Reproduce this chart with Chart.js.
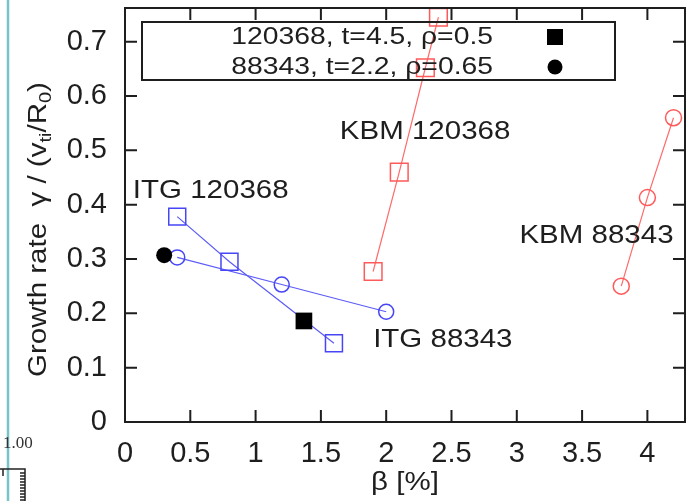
<!DOCTYPE html>
<html lang="en">
<head>
<meta charset="UTF-8">
<title>Growth rate vs beta</title>
<script src="https://cdn.jsdelivr.net/npm/chart.js@4.4.0/dist/chart.umd.js"></script>
<style>
  html, body { margin: 0; padding: 0; background: #ffffff; }
  #wrap { width: 690px; height: 501px; position: relative; }
</style>
</head>
<body>
<div id="wrap"><canvas id="chart" width="690" height="501"></canvas></div>
<script>
// values: beta [%] vs growth rate
const itg120368Beta = [0.4, 0.8, 1.6];
const itg120368Gamma = [0.378, 0.295, 0.145];
const itg88343Beta = [0.4, 1.2, 2.0];
const itg88343Gamma = [0.303, 0.253, 0.203];
const kbm120368Beta = [1.9, 2.1, 2.3, 2.4];
const kbm120368Gamma = [0.277, 0.46, 0.652, 0.745];
const kbm88343Beta = [3.8, 4.0, 4.2];
const kbm88343Gamma = [0.25, 0.413, 0.56];

// experimental points (filled), 120368 then 88343
const expBeta = [1.37, 0.3];
const expGamma = [0.186, 0.307];
const expLabels = ['120368, t=4.5, \u03c1=0.5', '88343, t=2.2, \u03c1=0.65'];

const xTicks = [0, 0.5, 1, 1.5, 2, 2.5, 3, 3.5, 4];
const yTicks = [0, 0.1, 0.2, 0.3, 0.4, 0.5, 0.6, 0.7];

// curve labels, placed in data coordinates
const curveLabels = ['ITG 120368', 'KBM 120368', 'KBM 88343', 'ITG 88343'];
const curveLabelBeta = [0.06, 1.645, 3.02, 1.9];
const curveLabelGamma = [0.425, 0.534, 0.342, 0.151];

const BLUE = '#4646f5';
const BLUE_LINE = '#5c5cf6';
const RED = '#ff5a5a';
const RED_LINE = '#ff6a6a';
const INK = '#1e1e1e';
const FONT = '"Liberation Sans", Arial, Helvetica, sans-serif';
const STRETCH = 1.18;

function pts(xs, ys) {
  return xs.map((x, i) => ({ x: x, y: ys[i] }));
}

// text in the original is a bit wider than plain Arial
function wideText(ctx, str, x, y, align, size) {
  ctx.save();
  ctx.font = size + 'px ' + FONT;
  const w = ctx.measureText(str).width * STRETCH;
  let x0 = x;
  if (align === 'right') x0 = x - w;
  else if (align === 'center') x0 = x - w / 2;
  ctx.translate(x0, y);
  ctx.scale(STRETCH, 1);
  ctx.textAlign = 'left';
  ctx.textBaseline = 'middle';
  ctx.fillStyle = INK;
  ctx.fillText(str, 0, 0);
  ctx.restore();
}

const frame = {
  id: 'frame',
  afterDatasetsDraw(chart) {
    const ctx = chart.ctx;
    const a = chart.chartArea;
    const xs = chart.scales.x;
    const ys = chart.scales.y;
    ctx.save();

    // legend box (transparent, over the data)
    ctx.strokeStyle = INK;
    ctx.lineWidth = 2;
    ctx.strokeRect(142, 22, 473, 58);
    wideText(ctx, expLabels[0], 493, 37, 'right', 24);
    wideText(ctx, expLabels[1], 493, 67, 'right', 24);
    ctx.fillStyle = '#000';
    ctx.fillRect(547, 29, 16, 16);
    ctx.beginPath();
    ctx.arc(555, 67, 7.5, 0, Math.PI * 2);
    ctx.fill();

    // curve labels
    curveLabels.forEach((t, i) => {
      wideText(ctx, t, xs.getPixelForValue(curveLabelBeta[i]), ys.getPixelForValue(curveLabelGamma[i]), 'left', 25);
    });

    // box and inward ticks on all four sides
    ctx.strokeStyle = INK;
    ctx.lineWidth = 2;
    ctx.strokeRect(a.left, a.top, a.right - a.left, a.bottom - a.top);
    ctx.beginPath();
    xTicks.forEach(v => {
      const px = xs.getPixelForValue(v);
      ctx.moveTo(px, a.bottom); ctx.lineTo(px, a.bottom - 12);
      ctx.moveTo(px, a.top); ctx.lineTo(px, a.top + 12);
    });
    yTicks.forEach(v => {
      const py = ys.getPixelForValue(v);
      ctx.moveTo(a.left, py); ctx.lineTo(a.left + 12, py);
      ctx.moveTo(a.right, py); ctx.lineTo(a.right - 12, py);
    });
    ctx.stroke();

    // axis titles
    wideText(ctx, '\u03b2 [%]', (a.left + a.right) / 2, 483, 'center', 25);

    ctx.save();
    ctx.translate(46, 377);
    ctx.rotate(-Math.PI / 2);
    ctx.scale(STRETCH, 1);
    ctx.fillStyle = INK;
    ctx.textBaseline = 'alphabetic';
    ctx.textAlign = 'left';
    const parts = [
      ['Growth rate  \u03b3 / (v', 25, 0],
      ['ti', 17, 5],
      ['/R', 25, 0],
      ['0', 17, 5],
      [')', 25, 0]
    ];
    let cx = 0;
    parts.forEach(p => {
      ctx.font = p[1] + 'px ' + FONT;
      ctx.fillText(p[0], cx, p[2]);
      cx += ctx.measureText(p[0]).width;
    });
    ctx.restore();

    // stray marks at the left edge of the page
    ctx.strokeStyle = '#78c4c8';
    ctx.lineWidth = 2.5;
    ctx.beginPath();
    ctx.moveTo(8, 0); ctx.lineTo(8, 501);
    ctx.stroke();
    ctx.fillStyle = '#333';
    ctx.font = '17px "Liberation Serif", "Times New Roman", serif';
    ctx.textAlign = 'left';
    ctx.textBaseline = 'middle';
    ctx.fillText('1.00', 3, 444);
    ctx.strokeStyle = '#222';
    ctx.lineWidth = 1.5;
    ctx.beginPath();
    ctx.moveTo(0, 469); ctx.lineTo(25, 469); ctx.lineTo(25, 501);
    ctx.moveTo(3, 469); ctx.lineTo(3, 476);
    for (let yy = 473; yy < 501; yy += 3) {
      ctx.moveTo(25, yy); ctx.lineTo(yy % 9 === 0 ? 17 : 20, yy);
    }
    ctx.stroke();

    ctx.restore();
  }
};

const lineSet = (data, style, line, mark, r) => ({
  data: data,
  showLine: true,
  borderColor: line,
  borderWidth: 1.2,
  pointStyle: style,
  pointRadius: r,
  pointHoverRadius: r,
  pointBorderColor: mark,
  pointBackgroundColor: 'rgba(0,0,0,0)',
  pointBorderWidth: 1.5,
  tension: 0
});

new Chart(document.getElementById('chart'), {
  type: 'scatter',
  data: {
    datasets: [
      {
        data: pts(expBeta, expGamma),
        showLine: false,
        pointStyle: ['rect', 'circle'],
        pointRadius: [11.8, 8],
        pointBackgroundColor: '#000',
        pointBorderColor: '#000',
        pointBorderWidth: 0
      },
      lineSet(pts(itg120368Beta, itg120368Gamma), 'rect', BLUE_LINE, BLUE, 12),
      lineSet(pts(itg88343Beta, itg88343Gamma), 'circle', BLUE_LINE, BLUE, 7.5),
      lineSet(pts(kbm120368Beta, kbm120368Gamma), 'rect', RED_LINE, RED, 12.5),
      lineSet(pts(kbm88343Beta, kbm88343Gamma), 'circle', RED_LINE, RED, 8)
    ]
  },
  options: {
    responsive: false,
    animation: false,
    devicePixelRatio: 1,
    layout: { autoPadding: false, padding: { left: 0, right: 5, top: 8, bottom: 0 } },
    plugins: {
      legend: { display: false },
      tooltip: { enabled: false }
    },
    scales: {
      x: {
        type: 'linear',
        min: 0,
        max: 4.288,
        afterFit: s => { s.height = 79; s.paddingLeft = 0; s.paddingRight = 0; },
        afterBuildTicks: s => { s.ticks = xTicks.map(v => ({ value: v })); },
        grid: { display: false, drawTicks: false },
        border: { display: false },
        ticks: {
          padding: 15,
          color: INK,
          font: { family: FONT, size: 29 },
          callback: v => String(Math.round(v * 10) / 10)
        }
      },
      y: {
        type: 'linear',
        min: 0,
        max: 0.762,
        afterFit: s => { s.width = 125; s.paddingTop = 0; s.paddingBottom = 0; },
        afterBuildTicks: s => { s.ticks = yTicks.map(v => ({ value: v })); },
        grid: { display: false, drawTicks: false },
        border: { display: false },
        ticks: {
          padding: 18,
          color: INK,
          font: { family: FONT, size: 29 },
          callback: v => String(Math.round(v * 10) / 10)
        }
      }
    }
  },
  plugins: [frame]
});
</script>
</body>
</html>
